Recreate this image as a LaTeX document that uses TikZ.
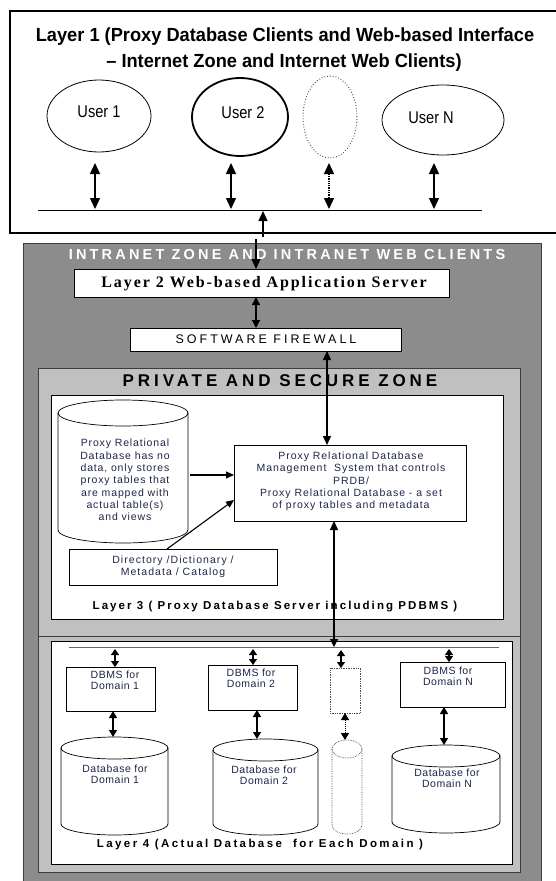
\documentclass[tikz,border=0pt]{standalone}
\usepackage{fontspec}
\usepackage{graphicx}
\setmainfont{Liberation Sans}
\newfontfamily\tnrfont{Liberation Serif}
\usetikzlibrary{shapes.geometric,arrows.meta}
\definecolor{zonedark}{RGB}{140,140,140}
\definecolor{zonelight}{RGB}{192,192,192}
\definecolor{zoneline}{RGB}{60,60,60}
\definecolor{navy}{RGB}{30,38,75}
\newcommand\myfs[2]{\fontsize{#1}{#2}\selectfont}
\newcommand\myls[1]{\addfontfeatures{LetterSpace=#1}}
% cylinder: #1 style, #2 name, #3 centre x, #4 top y, #5 width, #6 height, #7 cap y-radius
\newcommand\mycyl[7]{%
  \node[minimum width=#5pt, minimum height=#6pt] (#2) at (#3,{#4+#6/2}) {};
  \draw[#1] (#2.north west) ++(0pt,-#7pt) -- ++(0pt,{-(#6-2*#7)*1pt})
     arc[start angle=180,end angle=360,x radius={#5/2*1pt},y radius=#7pt]
     -- ++(0pt,{(#6-2*#7)*1pt})
     arc[start angle=0,end angle=180,x radius={#5/2*1pt},y radius=#7pt] -- cycle;
  \draw[#1, fill=none] (#2.north west) ++(0pt,-#7pt)
     arc[start angle=180,end angle=360,x radius={#5/2*1pt},y radius=#7pt];
}
\begin{document}
\begin{tikzpicture}[x=1pt,y=-1pt,
  every node/.style={inner sep=0pt,outer sep=0pt},
  frame/.style={draw, rectangle, line width=0.8pt, fill=white},
  zone/.style={draw=zoneline, rectangle, line width=0.9pt},
  user/.style={draw, ellipse, line width=0.8pt},
  cylline/.style={draw, line width=0.7pt, fill=white},
  dbl/.style={line width=1.3pt, {Triangle[length=11pt,width=10pt]}-{Triangle[length=11pt,width=10pt]}},
  mdbl/.style={line width=1.2pt, {Triangle[length=8pt,width=8pt]}-{Triangle[length=8pt,width=8pt]}},
  sdbl/.style={line width=1.1pt, {Triangle[length=6pt,width=8pt]}-{Triangle[length=6pt,width=8pt]}},
  ldbl/.style={line width=1.2pt, {Triangle[length=7pt,width=8pt]}-{Triangle[length=7pt,width=8pt]}},
  sarr/.style={line width=1.1pt, -{Triangle[length=8pt,width=7pt]}},
  uarr/.style={line width=1.2pt, -{Triangle[length=10pt,width=9pt]}},
  smalltxt/.style={align=center, text=navy, font={\myfs{10.5}{12.3}\myls{9}}},
  dbtxt/.style={align=center, text=navy, font={\myfs{10.5}{11}\myls{5}}},
]
\useasboundingbox (0,0) rectangle (555,881);
\fill[white] (0,0) rectangle (555,881);

% ---------------- Layer 1 ----------------
\node[draw, rectangle, line width=1.2pt, minimum width=547pt, minimum height=222pt] (l1box) at (283.5,122) {};
\node[font={\myfs{19}{22}\bfseries}] (t1) at (285,37) {\scalebox{0.96}[1]{Layer 1 (Proxy Database Clients and Web-based Interface}};
\node[font={\myfs{19}{22}\bfseries}] (t2) at (284,63) {\scalebox{0.96}[1]{– Internet Zone and Internet Web Clients)}};

\node[user, minimum width=104pt, minimum height=72pt] (u1) at (99,116) {};
\node[user, line width=1.8pt, minimum width=96pt, minimum height=78pt] (u2) at (240,117) {};
\node[user, dotted, line width=1pt, draw=black!70, minimum width=54pt, minimum height=82pt] (u3) at (330,117) {};
\node[user, minimum width=122pt, minimum height=70pt] (un) at (443,120) {};
\node[font={\myfs{17}{18}}] (u1t) at (99,112) {\scalebox{0.86}[1]{User 1}};
\node[font={\myfs{17}{18}}] (u2t) at (243,113) {\scalebox{0.86}[1]{User 2}};
\node[font={\myfs{17}{18}}] (unt) at (431,118) {\scalebox{0.86}[1]{User N}};

\coordinate (busl) at (38,210);
\coordinate (busr) at (482,210);
\draw[line width=1pt] (busl) -- (busr);
\coordinate (a1t) at (95,163);  \coordinate (a1b) at (95,209);
\coordinate (a2t) at (231,163); \coordinate (a2b) at (231,209);
\coordinate (a3t) at (329,163); \coordinate (a3b) at (329,209);
\coordinate (a4t) at (434,163); \coordinate (a4b) at (434,209);
\draw[dbl] (a1t) -- (a1b);
\draw[dbl] (a2t) -- (a2b);
\draw[dbl, densely dotted] (a3t) -- (a3b);
\draw[dbl] (a4t) -- (a4b);

% ---------------- Intranet zone ----------------
\node[zone, fill=zonedark, minimum width=518pt, minimum height=642pt] (intra) at (282,564) {};
\node[text=white, font={\myfs{14.5}{16}\bfseries\myls{22}}] (intrat) at (287,255) {INTRANET ZONE AND INTRANET WEB CLIENTS};

\coordinate (upb) at (263,237);
\coordinate (upt) at (263,211);
\draw[uarr] (upb) -- (upt);
\coordinate (dnt) at (256,239);

\node[frame, minimum width=375pt, minimum height=28pt] (l2) at (261.5,283) {};
\node[font={\myfs{16}{18}\tnrfont\bfseries\myls{12}}] (l2t) at (264,283.5) {Layer 2 Web-based Application Server};
\draw[uarr] (dnt) -- (dnt |- l2.north);

\node[frame, minimum width=271pt, minimum height=23pt] (fw) at (265.5,339.5) {};
\node[font={\myfs{12.5}{14}\myls{24}}] (fwt) at (266,339.5) {SOFTWARE FIREWALL};
\coordinate (x256) at (256,0);
\draw[mdbl] (l2.south -| x256) -- (fw.north -| x256);

% ---------------- Private zone ----------------
\node[zone, fill=zonelight, minimum width=482pt, minimum height=268pt] (priv) at (279,502) {};
\node[zone, fill=zonelight, minimum width=482pt, minimum height=236pt] (low) at (279,754) {};
\node[font={\myfs{17}{19}\bfseries\myls{23}}] (privt) at (280,381) {PRIVATE AND SECURE ZONE};

\node[frame, line width=0.9pt, minimum width=452pt, minimum height=224pt] (l3) at (277,507) {};
\node[frame, line width=0.9pt, minimum width=461pt, minimum height=223pt] (l4) at (281.5,752.5) {};

% Layer 3 content
\mycyl{cylline}{prdb}{123}{400}{130}{143}{13}
\node[smalltxt, font={\myfs{10.5}{12.3}\myls{8}}] (prdbt) at (125,480) {Proxy Relational\\Database has no\\data, only stores\\proxy tables that\\are mapped with\\actual table(s)\\and views};

\node[frame, line width=0.7pt, minimum width=232pt, minimum height=76pt] (rdbms) at (350,483) {};
\node[smalltxt] (rdbmst) at (351,481.5) {Proxy Relational Database\\Management\ \ System that controls\\PRDB/\\Proxy Relational Database - a set\\of proxy tables and metadata};

\node[frame, line width=0.7pt, minimum width=208pt, minimum height=36pt] (dir) at (173,567) {};
\node[smalltxt, font={\myfs{10.5}{12.5}\myls{10}}] (dirt) at (173,567) {Directory /Dictionary /\\Metadata / Catalog};

\node[font={\myfs{11.5}{13}\bfseries\myls{18}}] (l3t) at (275,607) {Layer 3 ( Proxy Database Server including PDBMS )};

\coordinate (x327) at (327,0);
\draw[line width=1.2pt, {Triangle[length=9pt,width=8pt]}-{Triangle[length=9pt,width=8pt]}] (fw.south -| x327) -- (rdbms.north -| x327);
\coordinate (cylr) at (190,475);
\draw[sarr] (cylr) -- (rdbms.west |- cylr);
\coordinate (dirtop) at (167,549);
\coordinate (rdin) at (234,500);
\draw[sarr] (dirtop) -- (rdin);

% Layer 4 content
\coordinate (l4bl) at (69,647);
\coordinate (l4br) at (499,647);
\draw[line width=0.8pt, draw=black!60] (l4bl) -- (l4br);
\coordinate (x334) at (334,0);
\draw[line width=1.2pt, {Triangle[length=9pt,width=8pt]}-{Triangle[length=8pt,width=8pt]}] (rdbms.south -| x334) -- (l4bl -| x334);

\node[frame, line width=0.7pt, minimum width=89pt, minimum height=44pt] (dbms1) at (110.5,689) {};
\node[frame, line width=0.7pt, minimum width=89pt, minimum height=45pt] (dbms2) at (252.5,687.5) {};
\node[frame, line width=0.7pt, densely dotted, draw=black!70, minimum width=30pt, minimum height=45pt] (dbms3) at (345,690.5) {};
\node[frame, line width=0.7pt, minimum width=105pt, minimum height=45pt] (dbmsn) at (452.5,684.5) {};
\node[dbtxt] (dbms1t) at (115,680.5) {DBMS for\\Domain 1};
\node[dbtxt] (dbms2t) at (251,678.5) {DBMS for\\Domain 2};
\node[dbtxt] (dbmsnt) at (448,676.5) {DBMS for\\Domain N};

\coordinate (x115) at (115,649);
\coordinate (x253) at (253,649);
\coordinate (x341) at (341,650);
\coordinate (x449) at (449,649);
\draw[sdbl] (x115) -- (x115 |- dbms1.north);
\draw[sdbl] (x253) -- (x253 |- dbms2.north);
\draw[sdbl] (x341) -- (x341 |- dbms3.north);
\draw[sdbl] (x449) -- (x449 |- dbmsn.north);

\mycyl{cylline}{db1}{114.5}{737}{107}{98}{11}
\mycyl{cylline}{db2}{265.5}{739}{105}{96}{11}
\mycyl{cylline, densely dotted, draw=black!70}{db3}{347}{740}{30}{94}{9}
\mycyl{cylline}{dbn}{446}{745}{108}{88}{11}
\node[dbtxt] (db1t) at (115,774) {Database for\\Domain 1};
\node[dbtxt] (db2t) at (264,775) {Database for\\Domain 2};
\node[dbtxt] (dbnt) at (447,778) {Database for\\Domain N};

\coordinate (y113) at (113,0);
\coordinate (y257) at (257,0);
\coordinate (y345) at (345,0);
\coordinate (y444) at (444,0);
\draw[ldbl] (dbms1.south -| y113) -- (db1.north -| y113);
\draw[ldbl] (dbms2.south -| y257) -- (db2.north -| y257);
\draw[ldbl, line width=1pt, densely dotted] (dbms3.south -| y345) -- (db3.north -| y345);
\draw[ldbl] (dbmsn.south -| y444) -- (dbn.north -| y444);

\node[font={\myfs{11.5}{13}\bfseries\myls{21}}] (l4t) at (260,845) {Layer 4 (Actual Database\ \ for Each Domain )};
\end{tikzpicture}
\end{document}
